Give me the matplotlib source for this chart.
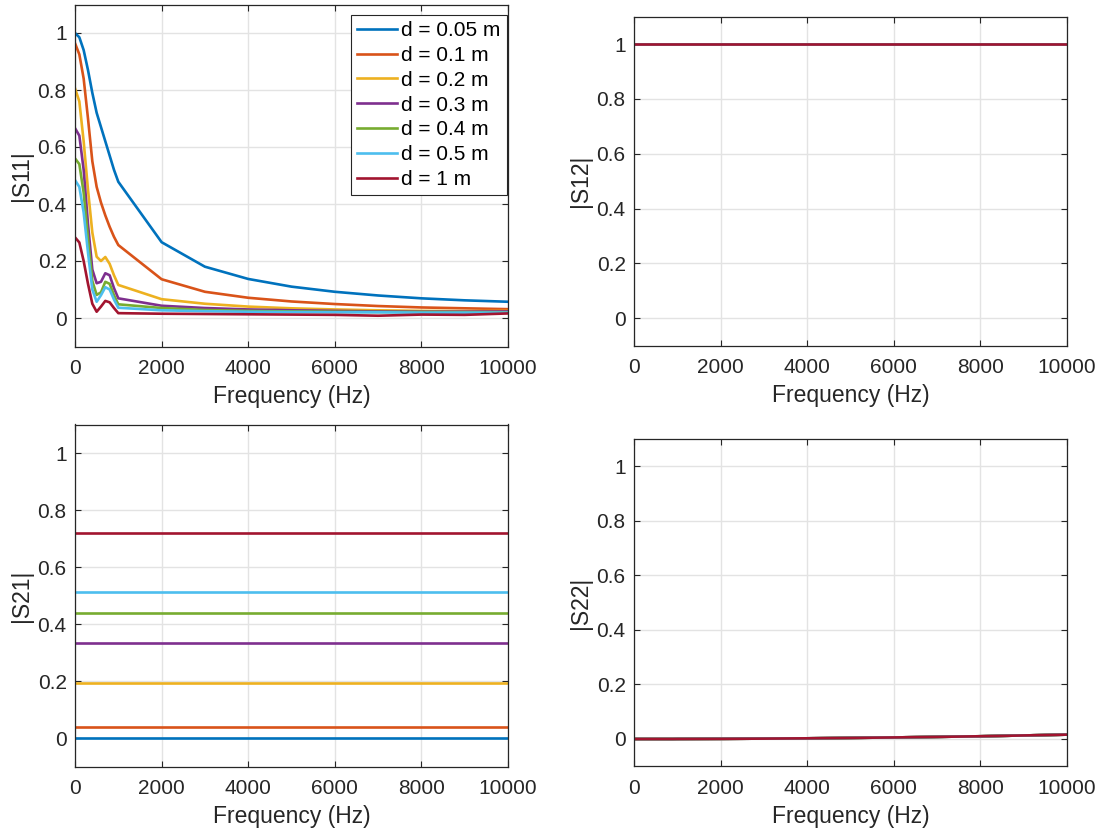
import matplotlib
matplotlib.use("Agg")
import matplotlib.pyplot as plt

plt.rcParams['font.family'] = ['Liberation Sans', 'DejaVu Sans']

freq = [0, 100, 200, 300, 400, 500, 600, 700, 800, 900, 1000,
        2000, 3000, 4000, 5000, 6000, 7000, 8000, 9000, 10000]

labels = ['d = 0.05 m', 'd = 0.1 m', 'd = 0.2 m', 'd = 0.3 m',
          'd = 0.4 m', 'd = 0.5 m', 'd = 1 m']
colors = ['#0072BD', '#D95319', '#EDB120', '#7E2F8E', '#77AC30', '#4DBEEE', '#A2142F']

s11_d005 = [1.0, 0.985, 0.94, 0.87, 0.79, 0.72, 0.67, 0.62, 0.57, 0.52, 0.478,
            0.266, 0.18, 0.137, 0.11, 0.092, 0.079, 0.069, 0.062, 0.057]
s11_d01 = [0.964, 0.925, 0.84, 0.70, 0.55, 0.46, 0.405, 0.36, 0.32, 0.285, 0.256,
           0.136, 0.092, 0.071, 0.058, 0.049, 0.042, 0.037, 0.034, 0.031]
s11_d02 = [0.806, 0.76, 0.62, 0.45, 0.30, 0.215, 0.20, 0.214, 0.19, 0.15, 0.116,
           0.066, 0.05, 0.04, 0.034, 0.030, 0.027, 0.025, 0.024, 0.025]
s11_d03 = [0.666, 0.64, 0.52, 0.33, 0.17, 0.122, 0.127, 0.157, 0.15, 0.105, 0.069,
           0.043, 0.035, 0.030, 0.027, 0.025, 0.023, 0.022, 0.022, 0.023]
s11_d04 = [0.56, 0.54, 0.44, 0.28, 0.13, 0.081, 0.09, 0.127, 0.12, 0.08, 0.048,
           0.035, 0.028, 0.025, 0.023, 0.022, 0.021, 0.021, 0.020, 0.020]
s11_d05 = [0.484, 0.46, 0.37, 0.23, 0.10, 0.057, 0.08, 0.108, 0.10, 0.065, 0.036,
           0.027, 0.024, 0.022, 0.021, 0.020, 0.020, 0.019, 0.019, 0.019]
s11_d1 = [0.283, 0.265, 0.20, 0.12, 0.05, 0.022, 0.04, 0.06, 0.055, 0.035, 0.017,
          0.015, 0.014, 0.013, 0.012, 0.011, 0.008, 0.012, 0.011, 0.016]
s11 = [s11_d005, s11_d01, s11_d02, s11_d03, s11_d04, s11_d05, s11_d1]

s12_level = [1.0, 1.0, 1.0, 1.0, 1.0, 1.0, 1.0]
s21_level = [0.0, 0.0386, 0.193, 0.333, 0.439, 0.514, 0.719]
s22_curve = [0.0, 0.0, 0.0, 0.0, 0.0, 0.0, 0.0, 0.0, 0.0, 0.0, 0.0002,
             0.0006, 0.0014, 0.0025, 0.004, 0.0057, 0.0078, 0.010, 0.013, 0.016]

W, H = 1102, 833
fig = plt.figure(figsize=(W / 100, H / 100), dpi=100)


def make_ax(x0, x1, ytop, ybot):
    return fig.add_axes([x0 / W, 1 - ybot / H, (x1 - x0) / W, (ybot - ytop) / H])


ax11 = make_ax(75, 508, 4.5, 346.5)
ax12 = make_ax(634, 1067, 16.6, 345.6)
ax21 = make_ax(75, 508, 424.5, 767)
ax22 = make_ax(634, 1067, 438.7, 766.3)

lw = 1.9
for i in range(7):
    ax11.plot(freq, s11[i], color=colors[i], lw=lw, label=labels[i])
    ax12.plot(freq, [s12_level[i]] * len(freq), color=colors[i], lw=lw)
    ax21.plot(freq, [s21_level[i]] * len(freq), color=colors[i], lw=lw)
    ax22.plot(freq, s22_curve, color=colors[i], lw=lw)

for ax, yl in [(ax11, '|S11|'), (ax12, '|S12|'), (ax21, '|S21|'), (ax22, '|S22|')]:
    ax.set_xlim(0, 10000)
    ax.set_ylim(-0.1, 1.1)
    ax.set_xticks([0, 2000, 4000, 6000, 8000, 10000])
    ax.set_yticks([0, 0.2, 0.4, 0.6, 0.8, 1])
    ax.set_yticklabels(['0', '0.2', '0.4', '0.6', '0.8', '1'])
    ax.grid(True, color='#e3e3e3', lw=1.0)
    ax.set_axisbelow(True)
    ax.tick_params(direction='in', length=4, width=0.8, top=True, right=True,
                   labelsize=15, colors='#262626')
    ax.tick_params(axis='x', pad=9)
    ax.tick_params(axis='y', pad=6)
    for sp in ax.spines.values():
        sp.set_color('#262626')
        sp.set_linewidth(0.9)
    ax.set_xlabel('Frequency (Hz)', fontsize=16.5, color='#262626', labelpad=5)
    ax.set_ylabel(yl, fontsize=16.5, color='#262626', labelpad=3)

leg = ax11.legend(loc='upper right', bbox_to_anchor=(0.997, 0.970), fontsize=15,
                  frameon=True, fancybox=False, handlelength=1.9, handletextpad=0.2,
                  labelspacing=0.28, borderpad=0.3, borderaxespad=0.0)
leg.get_frame().set_edgecolor('#262626')
leg.get_frame().set_linewidth(0.8)
leg.get_frame().set_alpha(1.0)

fig.savefig('out.png', dpi=100)
